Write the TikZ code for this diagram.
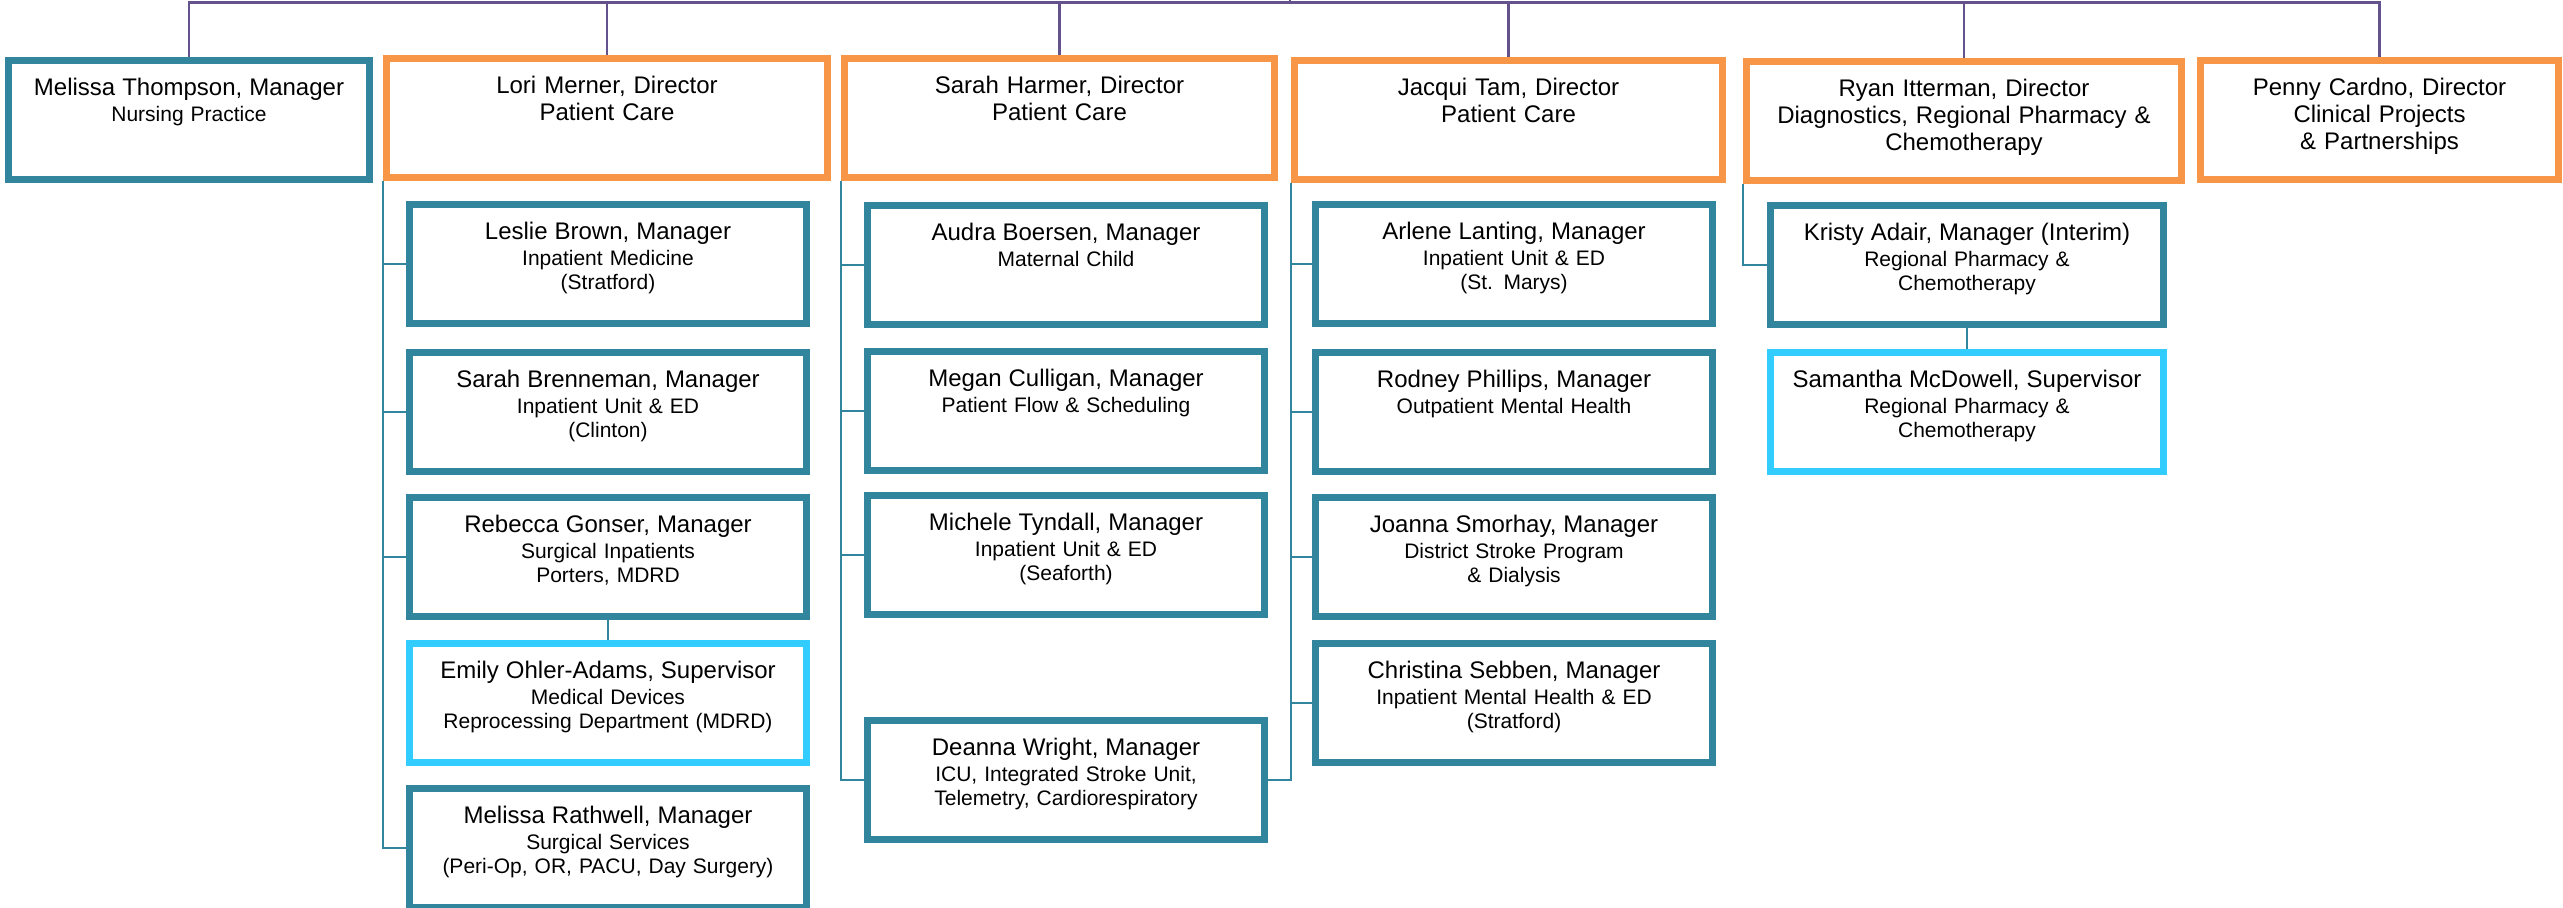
\documentclass[tikz,border=0pt]{standalone}
\usepackage{fontspec}
\setmainfont{Liberation Sans}
\usepackage[dvipsnames]{xcolor}
\usepackage{tikz}
\usetikzlibrary{calc}

\definecolor{azulPetroleo}{HTML}{31859C}
\definecolor{naranja}{HTML}{F79646}
\definecolor{celeste}{HTML}{33CCFF}
\definecolor{morado}{HTML}{64528C}

\begin{document}
\begin{tikzpicture}[
        x=0.5pt, y=-0.5pt, % 1 unidad = 1 pixel, y hacia abajo
        caja/.style={draw, line width=3.5pt, rectangle, anchor=north, inner sep=0pt,
            align=center, text width=198.5pt, text height=17.75pt, text depth=41.75pt,
            font=\fontsize{10.5}{12}\selectfont}, % Estilo base de las cajas
        gerente/.style={caja, draw=azulPetroleo}, % Gerentes
        supervisor/.style={caja, draw=celeste}, % Supervisores
        director/.style={caja, draw=naranja, font=\fontsize{12}{13.5}\selectfont}, % Directores
        bus/.style={morado, line width=1.2pt}, % Linea superior
        rama/.style={azulPetroleo, line width=1pt} % Lineas de cada columna
    ]
        % --- Nombre en letra mas grande ---
        \def\nombre#1{{\fontsize{12}{12}\selectfont #1}\\[0.75pt]}

        \useasboundingbox (0,0) rectangle (2563,907);

        % --- Fila superior ---
        \node[gerente, text width=180.5pt] (thompson) at (189,56.5) {\nombre{Melissa Thompson, Manager}Nursing Practice};
        \node[director, text width=220.5pt] (merner) at (607,54.5) {Lori Merner, Director\\Patient Care};
        \node[director, text width=215pt] (harmer) at (1059.5,54.5) {Sarah Harmer, Director\\Patient Care};
        \node[director, text width=214pt] (tam) at (1508.5,56.5) {Jacqui Tam, Director\\Patient Care};
        \node[director, text width=217.5pt] (itterman) at (1964,57.5) {Ryan Itterman, Director\\Diagnostics, Regional Pharmacy \&\\Chemotherapy};
        \node[director, text width=179pt] (cardno) at (2379.5,56.5) {Penny Cardno, Director\\Clinical Projects\\\& Partnerships};

        % --- Columna de Lori Merner ---
        \node[gerente] (brown) at (608,200.5) {\nombre{Leslie Brown, Manager}Inpatient Medicine\\(Stratford)};
        \node[gerente] (brenneman) at (608,348.5) {\nombre{Sarah Brenneman, Manager}Inpatient Unit \& ED\\(Clinton)};
        \node[gerente] (gonser) at (608,493.5) {\nombre{Rebecca Gonser, Manager}Surgical Inpatients\\Porters, MDRD};
        \node[supervisor] (ohler) at (608,639.5) {\nombre{Emily Ohler-Adams, Supervisor}Medical Devices\\Reprocessing Department (MDRD)};
        \node[gerente] (rathwell) at (608,784.5) {\nombre{Melissa Rathwell, Manager}Surgical Services\\(Peri-Op, OR, PACU, Day Surgery)};

        % --- Columna de Sarah Harmer ---
        \node[gerente] (boersen) at (1066,201.5) {\nombre{Audra Boersen, Manager}Maternal Child};
        \node[gerente] (culligan) at (1066,347.5) {\nombre{Megan Culligan, Manager}Patient Flow \& Scheduling};
        \node[gerente] (tyndall) at (1066,491.5) {\nombre{Michele Tyndall, Manager}Inpatient Unit \& ED\\(Seaforth)};
        \node[gerente] (wright) at (1066,716.5) {\nombre{Deanna Wright, Manager}ICU, Integrated Stroke Unit,\\Telemetry, Cardiorespiratory};

        % --- Columna de Jacqui Tam ---
        \node[gerente] (lanting) at (1514,200.5) {\nombre{Arlene Lanting, Manager}Inpatient Unit \& ED\\(St. Marys)};
        \node[gerente] (phillips) at (1514,348.5) {\nombre{Rodney Phillips, Manager}Outpatient Mental Health};
        \node[gerente] (smorhay) at (1514,493.5) {\nombre{Joanna Smorhay, Manager}District Stroke Program\\\& Dialysis};
        \node[gerente] (sebben) at (1514,639.5) {\nombre{Christina Sebben, Manager}Inpatient Mental Health \& ED\\(Stratford)};

        % --- Columna de Ryan Itterman ---
        \node[gerente, text width=196.5pt] (adair) at (1967,201.5) {\nombre{Kristy Adair, Manager (Interim)}Regional Pharmacy \&\\Chemotherapy};
        \node[supervisor, text width=196.5pt] (mcdowell) at (1967,348.5) {\nombre{Samantha McDowell, Supervisor}Regional Pharmacy \&\\Chemotherapy};

        % --- Linea superior hacia los directores ---
        \coordinate (raiz) at (1290,0);
        \coordinate (barra) at (1290,2.5);
        \draw[bus] (thompson.north) |- (barra) -| (cardno.north);
        \draw[bus] (raiz) -- (barra);
        \draw[bus] (merner.north) -- (merner.north |- barra);
        \draw[bus] (harmer.north) -- (harmer.north |- barra);
        \draw[bus] (tam.north) -- (tam.north |- barra);
        \draw[bus] (itterman.north) -- (itterman.north |- barra);

        % --- Ramas de cada columna ---
        \draw[rama] (merner.south west) |- (brown.west);
        \draw[rama] (merner.south west) |- (brenneman.west);
        \draw[rama] (merner.south west) |- (gonser.west);
        \draw[rama] (merner.south west) |- (rathwell.west);
        \draw[rama] (gonser.south) -- (ohler.north);

        \draw[rama] (harmer.south west) |- (boersen.west);
        \draw[rama] (harmer.south west) |- (culligan.west);
        \draw[rama] (harmer.south west) |- (tyndall.west);
        \draw[rama] (harmer.south west) |- (wright.west);

        \draw[rama] (tam.south west) |- (lanting.west);
        \draw[rama] (tam.south west) |- (phillips.west);
        \draw[rama] (tam.south west) |- (smorhay.west);
        \draw[rama] (tam.south west) |- (sebben.west);
        \draw[rama] (tam.south west) |- (wright.east); % Deanna Wright tambien depende de Jacqui Tam

        \draw[rama] (itterman.south west) |- (adair.west);
        \draw[rama] (adair.south) -- (mcdowell.north);

    \end{tikzpicture}
\end{document}
